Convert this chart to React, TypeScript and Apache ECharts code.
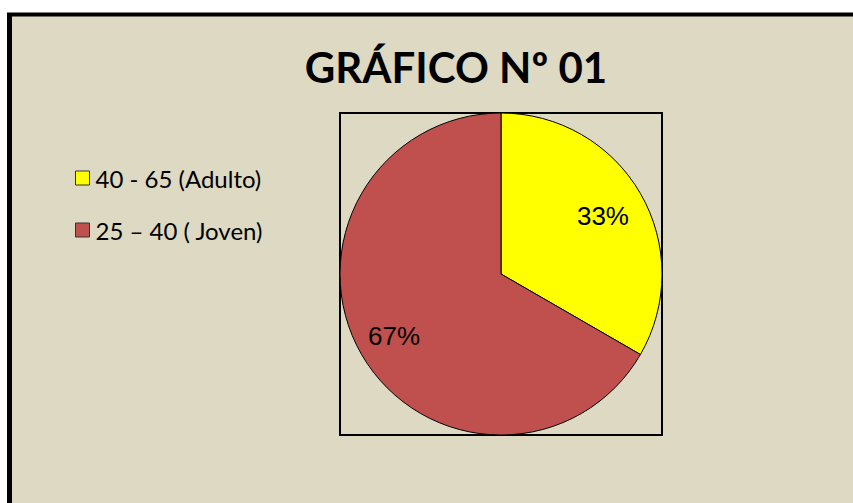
import React, { useEffect, useRef } from 'react';
import * as echarts from 'echarts';

const categories = ['40 - 65 (Adulto)', '25 – 40 ( Joven)'];
const values = [1, 2];
const colors = ['#FFFF00', '#C0504D'];
const titleText = 'GRÁFICO Nº 01';

export default function App() {
  const ref = useRef<HTMLDivElement>(null);
  useEffect(() => {
    const chart = echarts.init(ref.current as HTMLDivElement, null, { renderer: 'svg' });
    const data = categories.map((name, i) => ({ name, value: values[i], itemStyle: { color: colors[i] } }));
    const center = [501, 274];
    chart.setOption({
      animation: false,
      backgroundColor: '#DDD9C3',
      title: {
        text: titleText,
        left: 451,
        textAlign: 'center',
        top: 41,
        textStyle: { fontFamily: 'Lato', fontWeight: 'bold', fontSize: 42, lineHeight: 42, color: '#000' },
      },
      legend: {
        orient: 'vertical',
        left: 70,
        top: 161,
        icon: 'rect',
        itemWidth: 14,
        itemHeight: 14,
        itemGap: 28,
        selectedMode: false,
        data: categories,
        itemStyle: { borderColor: '#333', borderWidth: 1 },
        textStyle: { fontFamily: 'Lato', fontSize: 24, lineHeight: 24, color: '#000', padding: [0, 0, 0, 1] },
      },
      graphic: [
        {
          type: 'rect', z: -10, silent: true,
          shape: { x: 0, y: 0, width: 900, height: 13 },
          style: { fill: '#FFFFFF' },
        },
        {
          type: 'rect', z: -10, silent: true,
          shape: { x: 0, y: 0, width: 7, height: 600 },
          style: { fill: '#FFFFFF' },
        },
        {
          type: 'rect', z: -9, silent: true,
          shape: { x: 7, y: 13, width: 5, height: 600 },
          style: { fill: '#000' },
        },
        {
          type: 'rect', z: -9, silent: true,
          shape: { x: 7, y: 12.5, width: 900, height: 4 },
          style: { fill: '#000' },
        },
        {
          type: 'rect', z: 1, silent: true,
          shape: { x: 340, y: 113, width: 322, height: 322 },
          style: { fill: 'none', stroke: '#000', lineWidth: 2 },
        },
      ],
      series: [
        {
          type: 'pie', center, radius: 161, startAngle: 90, silent: true,
          data,
          label: { show: false }, labelLine: { show: false },
          itemStyle: { borderColor: '#000', borderWidth: 1 },
          z: 3,
        },
        {
          type: 'pie', center, radius: [80, 161], startAngle: 90, silent: true,
          legendHoverLink: false,
          data: data.map((d, i) => ({
            name: d.name, value: d.value,
            itemStyle: { color: 'rgba(0,0,0,0)', borderWidth: 0 },
            label: { offset: i === 0 ? [-5, 4] : [0, 0] },
          })),
          label: {
            show: true, position: 'inside',
            formatter: (p: any) => Math.round(p.percent) + '%',
            fontFamily: 'Liberation Sans', fontSize: 26, color: '#000',
          },
          labelLine: { show: false },
          z: 4,
        },
      ],
    });
    return () => chart.dispose();
  }, []);
  return <div ref={ref} style={{ position: 'fixed', left: 0, top: 0, width: 853, height: 503 }} />;
}
